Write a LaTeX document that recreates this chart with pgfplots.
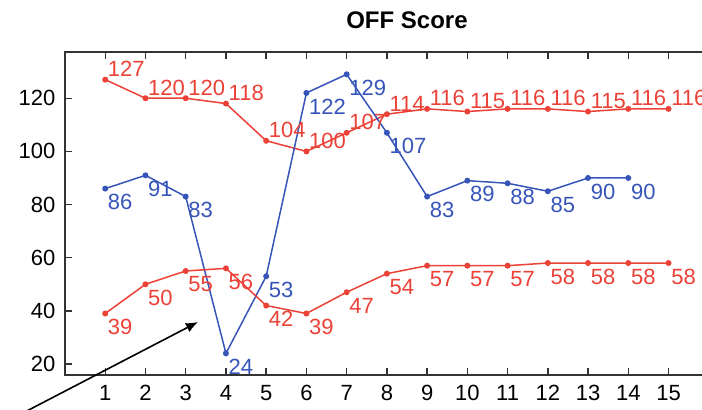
\documentclass[border=0pt]{standalone}
\usepackage{pgfplots}
\pgfplotsset{compat=1.18}
\usepackage{fontspec}
\setmainfont{Liberation Sans}
\usetikzlibrary{arrows.meta}
\definecolor{cred}{RGB}{235,65,55}
\definecolor{cblue}{RGB}{55,85,185}
\pgfplotsset{/pgf/number format/assume math mode=true}
\begin{document}
\begin{tikzpicture}
\begin{axis}[
  scale only axis,
  width=342pt, height=161.5pt,
  xmin=0, xmax=17, ymin=15.86, ymax=137.4,
  xtick={1,...,15}, ytick={20,40,...,120},
  tick align=inside, major tick length=3.5pt,
  axis line style={line width=0.7pt, black!80},
  tick style={line width=0.7pt, black!80},
  ticklabel style={font=\fontsize{11}{13}\selectfont},
  xticklabel style={yshift=-1.5pt},
  yticklabel style={xshift=-1.3pt},
  clip=false,
  nodes near coords,
  every node near coord/.append style={font=\fontsize{11}{13}\selectfont, inner sep=1pt},
]
\addplot[cred, line width=0.75pt, mark=*, mark size=1.1pt,
  every node near coord/.append style={anchor=south west, text=cred}] coordinates {
(1,127) (2,120) (3,120) (4,118) (5,104) (6,100) (7,107) (8,114) (9,116) (10,115) (11,116) (12,116) (13,115) (14,116) (15,116)};
\addplot[cblue, line width=0.75pt, mark=*, mark size=1.1pt,
  every node near coord/.append style={anchor=north west, yshift=-1.5pt, text=cblue}] coordinates {
(1,86) (2,91) (3,83) (4,24) (5,53) (6,122) (7,129) (8,107) (9,83) (10,89) (11,88) (12,85) (13,90) (14,90)};
\addplot[cred, line width=0.75pt, mark=*, mark size=1.1pt,
  every node near coord/.append style={anchor=north west, yshift=-1.5pt, text=cred}] coordinates {
(1,39) (2,50) (3,55) (4,56) (5,42) (6,39) (7,47) (8,54) (9,57) (10,57) (11,57) (12,58) (13,58) (14,58) (15,58)};
\draw[line width=0.8pt, black, -{Latex[length=6pt,width=5pt]}] (axis cs:-1.86,-4.84) -- (axis cs:3.305,35.8);
\node[font=\bfseries\fontsize{12}{14}\selectfont, anchor=base, inner sep=0pt] at ([yshift=11.9pt]rel axis cs:0.5,1) {OFF Score};
\end{axis}
\pgfresetboundingbox
\path[use as bounding box] (-32.5pt,-17pt) rectangle (318.5pt,187.5pt);
\end{tikzpicture}
\end{document}
